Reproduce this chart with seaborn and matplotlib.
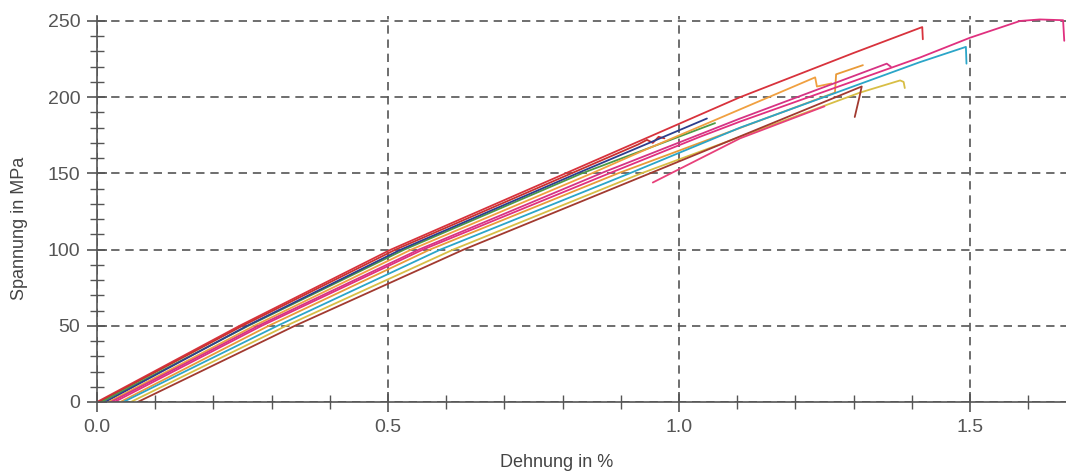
import numpy as np
import pandas as pd
import matplotlib
matplotlib.use("Agg")
import matplotlib.pyplot as plt
from matplotlib.ticker import MultipleLocator
import seaborn as sns

# ---- data (strain in %, stress in MPa) ----
red1_strain = [0.000, 0.245, 0.505, 0.805, 1.105, 1.300, 1.418, 1.419]
red1_stress = [0, 50, 100, 150, 200, 229, 246, 238]

red2_strain = [0.004, 0.250, 0.513, 0.815, 0.930, 0.945, 0.955, 0.965, 0.975]
red2_stress = [0, 50, 100, 150, 169, 172, 170, 174, 173]

green_strain = [0.008, 0.260, 0.528, 0.833, 1.062]
green_stress = [0, 50, 100, 150, 183]

navy_strain = [0.014, 0.258, 0.522, 0.825, 1.048]
navy_stress = [0, 50, 100, 150, 186]

orangeA_strain = [0.020, 0.270, 0.540, 0.850, 0.933, 1.105, 1.234, 1.237, 1.262]
orangeA_stress = [0, 50, 100, 150, 164, 192, 213, 207, 209]

orangeB_strain = [0.040, 0.295, 0.572, 0.895, 1.268, 1.270, 1.316]
orangeB_stress = [0, 50, 100, 150, 203, 215, 221]

magenta_strain = [0.030, 0.283, 0.560, 0.880, 1.036, 1.105, 1.414, 1.500, 1.586, 1.620, 1.660, 1.662]
magenta_stress = [0, 50, 100, 150, 174, 184, 226, 239, 250, 251, 250.5, 237]

magenta2_strain = [0.024, 0.277, 0.553, 0.872, 1.105, 1.350, 1.357, 1.364]
magenta2_stress = [0, 50, 100, 151, 186, 221, 222, 220]

cyan_strain = [0.045, 0.310, 0.590, 0.915, 1.105, 1.414, 1.493, 1.494]
cyan_stress = [0, 50, 100, 150, 180, 223, 233, 222]

yellow_strain = [0.058, 0.325, 0.612, 0.935, 1.311, 1.380, 1.386, 1.388]
yellow_stress = [0, 50, 100, 150, 203, 211, 210, 206]

brown_strain = [0.070, 0.340, 0.630, 0.950, 1.314, 1.310, 1.302]
brown_stress = [0, 50, 100, 150, 207, 200, 187]

pink_strain = [0.955, 1.105, 1.250]
pink_stress = [144, 173, 194]

specimens = ["red1", "red2", "green", "navy", "orangeA", "orangeB",
             "magenta", "magenta2", "cyan", "yellow", "brown", "pink"]
strains = [red1_strain, red2_strain, green_strain, navy_strain, orangeA_strain,
           orangeB_strain, magenta_strain, magenta2_strain, cyan_strain,
           yellow_strain, brown_strain, pink_strain]
stresses = [red1_stress, red2_stress, green_stress, navy_stress, orangeA_stress,
            orangeB_stress, magenta_stress, magenta2_stress, cyan_stress,
            yellow_stress, brown_stress, pink_stress]
colors = ["#d8323c", "#c8302f", "#4c9a45", "#2c3e8c", "#f0a040", "#e99a38",
          "#e0307f", "#d63384", "#2ba5c8", "#d8be45", "#a23a30", "#e8407a"]

x_ticks = [0.0, 0.5, 1.0, 1.5]
x_tick_labels = ["0.0", "0.5", "1.0", "1.5"]
y_ticks = [0, 50, 100, 150, 200, 250]
y_tick_labels = ["0", "50", "100", "150", "200", "250"]

rows = []
for name, xs, ys in zip(specimens, strains, stresses):
    for i, (x, y) in enumerate(zip(xs, ys)):
        rows.append({"specimen": name, "order": i, "strain": x, "stress": y})
df = pd.DataFrame(rows)

sns.set_style("white")
plt.rcParams["font.family"] = ["Liberation Sans", "DejaVu Sans"]

fig = plt.figure(figsize=(10.66, 4.72), dpi=100)
ax = fig.add_axes([97 / 1066, 70 / 472, 969 / 1066, 385.6 / 472])

sns.lineplot(data=df, x="strain", y="stress", hue="specimen",
             palette=dict(zip(specimens, colors)), hue_order=specimens,
             sort=False, estimator=None, legend=False, linewidth=1.3, ax=ax)

ax.set_xlim(0, 1.665)
ax.set_ylim(0, 253)
ax.set_xticks(x_ticks)
ax.set_xticklabels(x_tick_labels)
ax.set_yticks(y_ticks)
ax.set_yticklabels(y_tick_labels)
ax.xaxis.set_minor_locator(MultipleLocator(0.1))
ax.yaxis.set_minor_locator(MultipleLocator(10))

gc = "#555555"
ax.grid(True, which="major", color=gc, linestyle=(0, (5, 3.5)), linewidth=1.2)
ax.set_axisbelow(True)
for s in ["top", "right"]:
    ax.spines[s].set_visible(False)
for s in ["left", "bottom"]:
    ax.spines[s].set_color(gc)
    ax.spines[s].set_linewidth(1.2)

ax.tick_params(which="both", bottom=True, left=True, top=False, right=False)
ax.tick_params(which="major", direction="inout", length=14, width=1.2,
               color=gc, labelsize=14, labelcolor="#555555", pad=5)
ax.tick_params(which="minor", direction="inout", length=10, width=1.0, color=gc)

ax.set_xlabel("Dehnung in %", fontsize=13, color="#444444")
ax.set_ylabel("Spannung in MPa", fontsize=13, color="#444444")
ax.xaxis.set_label_coords(0.474, -0.135)
ax.yaxis.set_label_coords(-0.071, 0.451)

fig.savefig("out.png", dpi=100)
